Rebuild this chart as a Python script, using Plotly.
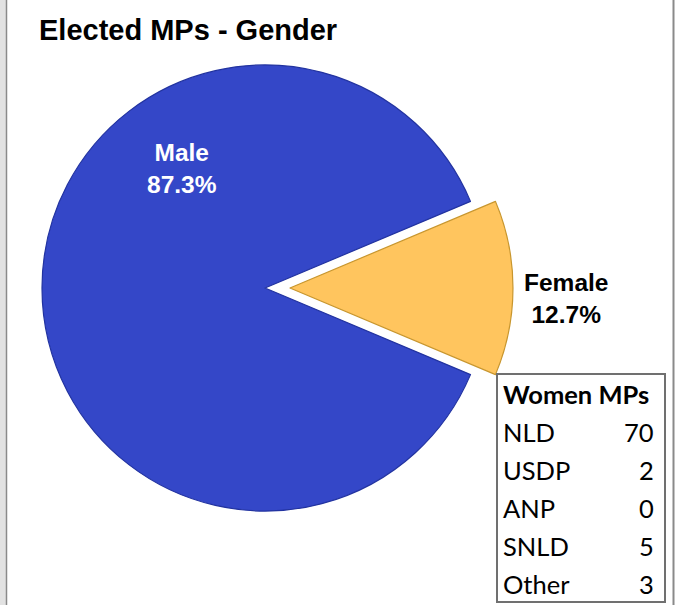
import plotly.graph_objects as go

# ---- data ----
genders = ["Male", "Female"]
mp_counts = [550, 80]
party_names = ["NLD", "USDP", "ANP", "SNLD", "Other"]
women_mps = [70, 2, 0, 5, 3]
title_text = "Elected MPs - Gender"
table_title = "Women MPs"

W, H = 675, 605
total = sum(mp_counts)
shares = [v / total for v in mp_counts]

def px(x):
    return x / W

def py(y):
    return 1 - y / H

pull_female = 0.112
cx, cy, r = 265, 288, 223
half = r * (1 + pull_female)

fig = go.Figure()
fig.add_trace(go.Pie(
    labels=genders,
    values=mp_counts,
    sort=False,
    direction="clockwise",
    rotation=90 + shares[1] * 180,
    pull=[0, pull_female],
    marker=dict(colors=["#3447C8", "#FFC55E"],
                line=dict(color=["#2233A0", "#C8962E"], width=1.2)),
    textinfo="none",
    hoverinfo="skip",
    showlegend=False,
    domain=dict(x=[px(cx - half), px(cx + half)],
                y=[py(cy + half), py(cy - half)]),
))

annotations = []
# title
annotations.append(dict(x=px(37), y=py(30), xref="paper", yref="paper",
                        xanchor="left", yanchor="middle", showarrow=False,
                        text="<b>%s</b>" % title_text,
                        font=dict(family="Liberation Sans, Arial", size=29, color="#000")))
# slice labels
label_pos = [(182, 168, "#FFFFFF"), (566, 299, "#000000")]
for name, s, (lx, ly, col) in zip(genders, shares, label_pos):
    annotations.append(dict(x=px(lx), y=py(ly), xref="paper", yref="paper",
                            xanchor="center", yanchor="middle", showarrow=False,
                            text="<b>%s<br>%.1f%%</b>" % (name, s * 100),
                            font=dict(family="Liberation Sans, Arial", size=24.5, color=col)))

# table
tfont = dict(family="Lato, Carlito, Calibri", size=25.5, color="#000")
row0 = 394
step = 38
annotations.append(dict(x=px(501), y=py(row0), xref="paper", yref="paper",
                        xanchor="left", yanchor="middle", showarrow=False,
                        text="<b>%s</b>" % table_title, font=tfont))
for i, (p, v) in enumerate(zip(party_names, women_mps)):
    yy = row0 + step * (i + 1)
    annotations.append(dict(x=px(501), y=py(yy), xref="paper", yref="paper",
                            xanchor="left", yanchor="middle", showarrow=False,
                            text=p, font=tfont))
    annotations.append(dict(x=px(656), y=py(yy), xref="paper", yref="paper",
                            xanchor="right", yanchor="middle", showarrow=False,
                            text=str(v), font=tfont))

shapes = [
    # table box
    dict(type="rect", xref="paper", yref="paper",
         x0=px(497), x1=px(665), y0=py(602), y1=py(374),
         line=dict(color="#707070", width=2), fillcolor="rgba(0,0,0,0)"),
    # left grey strip
    dict(type="rect", xref="paper", yref="paper",
         x0=0, x1=px(6), y0=0, y1=1,
         line=dict(width=0), fillcolor="#E2E2E2", layer="below"),
    dict(type="line", xref="paper", yref="paper",
         x0=px(6.5), x1=px(6.5), y0=0, y1=1,
         line=dict(color="#8A8A8A", width=1.5)),
    # right border line
    dict(type="line", xref="paper", yref="paper",
         x0=px(673.5), x1=px(673.5), y0=0, y1=1,
         line=dict(color="#8A8A8A", width=2)),
]

fig.update_layout(
    width=W, height=H,
    margin=dict(l=0, r=0, t=0, b=0),
    paper_bgcolor="#FFFFFF",
    plot_bgcolor="#FFFFFF",
    annotations=annotations,
    shapes=shapes,
)

fig.write_html("out.html",
               config={"displayModeBar": False, "staticPlot": True},
               post_script="document.body.style.margin='0';document.body.style.overflow='hidden';")
